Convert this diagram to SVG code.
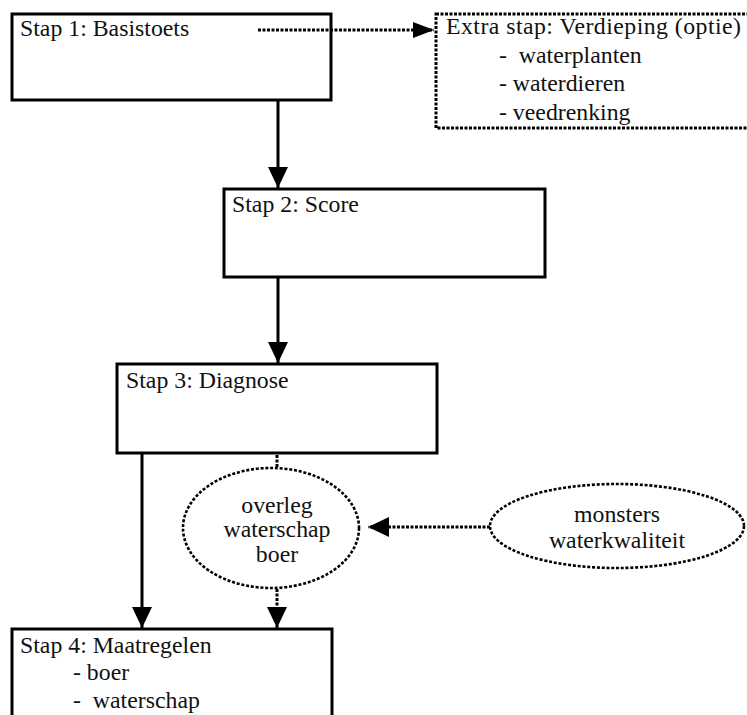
<svg xmlns="http://www.w3.org/2000/svg" width="747" height="715" viewBox="0 0 747 715">
<style>
.box{fill:#fff;stroke:#000;stroke-width:3}
.dbox{fill:#fff;stroke:#000;stroke-width:3;stroke-dasharray:3 1.5}
.ell{fill:#fff;stroke:#000;stroke-width:2.6;stroke-dasharray:3 1.8}
.t{font-family:"Liberation Serif","Times New Roman",serif;font-size:23.8px;fill:#111}
.c{text-anchor:middle}
.solid{stroke:#000;stroke-width:3;fill:none}
.dot{stroke:#000;stroke-width:3;stroke-dasharray:3 1.5;fill:none}
</style>
<defs>
<marker id="ah" viewBox="0 0 21 20" refX="21" refY="10" markerWidth="21" markerHeight="20" markerUnits="userSpaceOnUse" orient="auto">
<path d="M0,0 L21,10 L0,20 z" fill="#000"/>
</marker>
<marker id="ahs" viewBox="0 0 21 16" refX="21" refY="8" markerWidth="21" markerHeight="16" markerUnits="userSpaceOnUse" orient="auto">
<path d="M0,0 L21,8 L0,16 z" fill="#000"/>
</marker>
</defs>
<g id="stap1">
<rect class="box" x="12" y="14" width="319" height="86"/>
<text class="t" x="20" y="36">Stap 1: Basistoets</text>
</g>
<g id="extra">
<rect class="dbox" x="436" y="14" width="330" height="114"/>
<text class="t" x="446" y="34" textLength="295">Extra stap: Verdieping (optie)</text>
<text class="t" x="499" y="63" xml:space="preserve">-  waterplanten</text>
<text class="t" x="499" y="91">- waterdieren</text>
<text class="t" x="499" y="120">- veedrenking</text>
</g>
<g id="stap2">
<rect class="box" x="224" y="189" width="321" height="88"/>
<text class="t" x="232" y="212">Stap 2: Score</text>
</g>
<g id="stap3">
<rect class="box" x="117" y="364" width="320" height="89"/>
<text class="t" x="126" y="388">Stap 3: Diagnose</text>
</g>
<g id="overleg">
<ellipse class="ell" cx="271" cy="528" rx="88" ry="60"/>
<text class="t c" x="277" y="513">overleg</text>
<text class="t c" x="277" y="537">waterschap</text>
<text class="t c" x="277" y="562">boer</text>
</g>
<g id="monsters">
<ellipse class="ell" cx="617" cy="526" rx="127" ry="42"/>
<text class="t c" x="617" y="522">monsters</text>
<text class="t c" x="617" y="548">waterkwaliteit</text>
</g>
<g id="stap4">
<rect class="box" x="12" y="629" width="320" height="100"/>
<text class="t" x="20" y="653">Stap 4: Maatregelen</text>
<text class="t" x="73" y="680">- boer</text>
<text class="t" x="73" y="708" xml:space="preserve">-  waterschap</text>
</g>
<g id="connectors">
<line class="dot" x1="258" y1="30" x2="434" y2="30" marker-end="url(#ahs)"/>
<line class="solid" x1="278" y1="101" x2="278" y2="188" marker-end="url(#ah)"/>
<line class="solid" x1="278" y1="278" x2="278" y2="363" marker-end="url(#ah)"/>
<line class="solid" x1="142" y1="454" x2="142" y2="628" marker-end="url(#ah)"/>
<line class="dot" x1="277" y1="455" x2="277" y2="468"/>
<line class="dot" x1="277" y1="589" x2="277" y2="628" marker-end="url(#ah)"/>
<line class="dot" x1="490" y1="527" x2="368" y2="527" marker-end="url(#ah)"/>
</g>
</svg>
